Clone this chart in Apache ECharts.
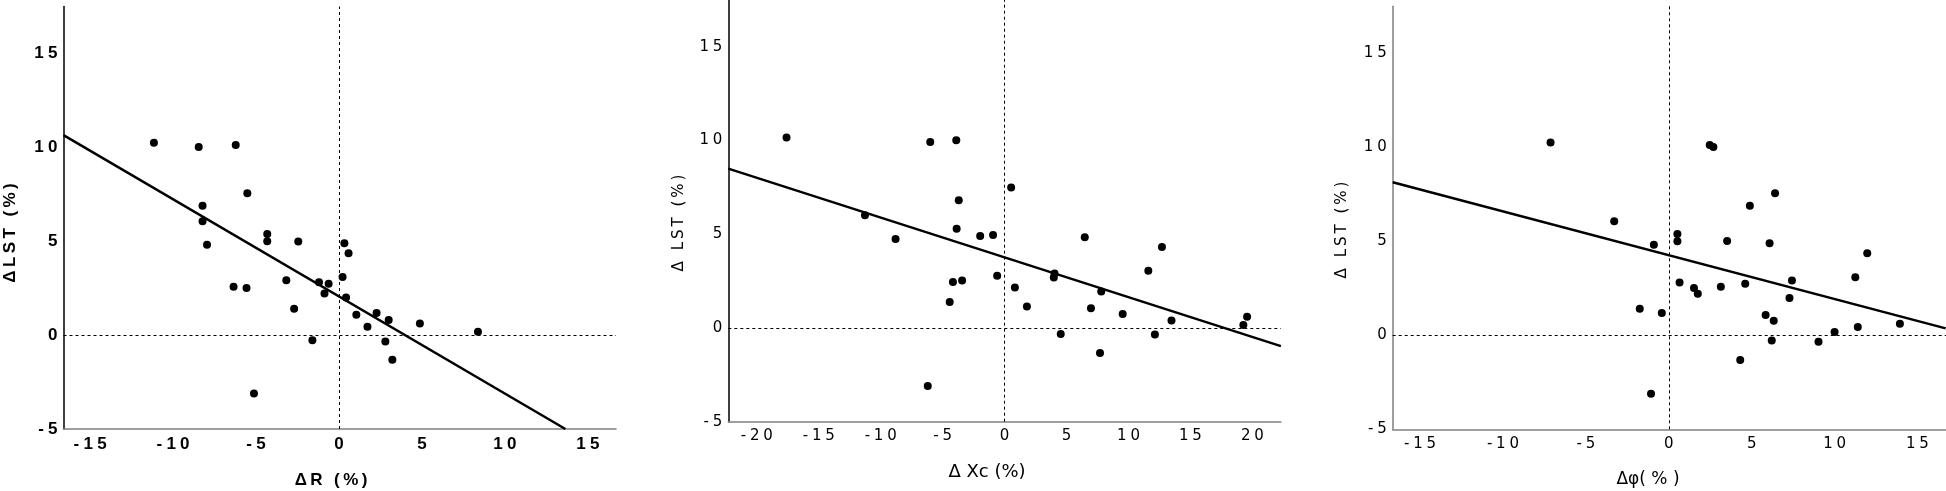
<!DOCTYPE html>
<html>
<head>
<meta charset="utf-8">
<script src="https://cdn.jsdelivr.net/npm/echarts@6/dist/echarts.min.js"></script>
<style>html,body{margin:0;padding:0;background:#fff}#c{width:1946px;height:491px}</style>
</head>
<body>
<div id="c"></div>
<script>
// ---- data ----
const xTicks1 = [-15, -10, -5, 0, 5, 10, 15];
const xTicks2 = [-20, -15, -10, -5, 0, 5, 10, 15, 20];
const xTicks3 = [-15, -10, -5, 0, 5, 10, 15];
const yTicks = [-5, 0, 5, 10, 15];

// Panel 1: ΔR vs ΔLST
const dR   = [-11.15,-8.45,-6.22,-5.52,-8.22,-8.22,-7.95,-4.32,-4.32,-2.45,0.33,0.58,0.22,-3.17,-1.2,-0.62,-6.35,-5.57,-0.87,0.43,-2.7,1.05,2.27,3.0,1.72,4.88,8.38,-1.6,2.8,3.22,-5.12];
const lst1 = [10.25,10.02,10.12,7.56,6.89,6.06,4.81,5.39,5.0,4.98,4.89,4.36,3.09,2.92,2.81,2.74,2.58,2.51,2.21,2.0,1.41,1.08,1.18,0.8,0.44,0.62,0.18,-0.28,-0.34,-1.31,-3.11];
const fit1X = [-16.6, 13.65];
const fit1Y = [10.65, -5.0];

// Panel 2: ΔXc vs ΔLST
const dXc  = [-17.6,-6.0,-3.9,0.53,-3.7,-11.27,-3.87,-1.97,-0.93,-8.8,6.47,12.7,11.6,4.03,3.97,-0.6,-4.17,-3.43,0.83,7.8,-4.43,1.8,6.97,9.53,13.47,19.57,19.27,4.53,12.13,7.7,-6.2];
const lst2 = [10.16,9.93,10.02,7.49,6.82,6.02,5.3,4.91,4.96,4.75,4.84,4.32,3.05,2.91,2.7,2.79,2.46,2.54,2.16,1.95,1.39,1.14,1.05,0.75,0.4,0.6,0.16,-0.32,-0.35,-1.33,-3.1];
const fit2X = [-22.3, 22.3];
const fit2Y = [8.5, -0.97];

// Panel 3: Δφ vs ΔLST
const dPhi = [-7.13,2.47,2.69,6.41,4.89,-3.29,0.52,0.52,3.52,6.08,-0.9,11.97,11.25,0.65,7.43,4.61,3.14,1.52,1.75,7.28,-1.75,-0.42,5.84,6.33,11.4,13.94,10.0,6.21,9.03,4.31,-1.07];
const lst3 = [10.25,10.12,10.02,7.56,6.89,6.06,5.39,5.0,5.02,4.89,4.81,4.36,3.09,2.81,2.92,2.74,2.58,2.51,2.21,1.98,1.41,1.18,1.08,0.78,0.44,0.62,0.18,-0.28,-0.34,-1.31,-3.11];
const fit3X = [-16.65, 16.7];
const fit3Y = [8.14, 0.37];

// ---- chart ----
const zip = (a, b) => a.map((v, i) => [v, b[i]]);
const spacedWith = sep => s => Array.from(String(s)).join(sep);
const spacedThin = spacedWith('\u2009');
const spacedWide = spacedWith('\u2005');

const chart = echarts.init(document.getElementById('c'), null, {renderer: 'canvas'});

const boldFont = {fontFamily: 'Liberation Sans', fontWeight: 'bold', fontSize: 17, color: '#000'};
const regFont = {fontFamily: 'DejaVu Sans', fontWeight: 'normal', fontSize: 15, color: '#000'};

function xAxisCfg(idx, min, max, ticks, font, lineColor) {
  return {
    type: 'value', gridIndex: idx, min: min, max: max,
    splitLine: {show: false},
    axisTick: {show: false},
    axisLine: {show: true, onZero: false, lineStyle: {color: lineColor, width: 1.5}},
    axisLabel: Object.assign({customValues: ticks, margin: 7, formatter: v => spacedWide(v)}, font)
  };
}
function yAxisCfg(idx, font, lineColor) {
  return {
    type: 'value', gridIndex: idx, min: -5, max: 17.5,
    splitLine: {show: false},
    axisTick: {show: false},
    axisLine: {show: true, onZero: false, lineStyle: {color: lineColor, width: 1.5}},
    axisLabel: Object.assign({customValues: yTicks, margin: 6, formatter: v => spacedWide(v)}, font)
  };
}
const refLines = {
  silent: true, symbol: 'none', label: {show: false},
  lineStyle: {color: '#000', type: [3, 3], width: 1, opacity: 1},
  data: [{xAxis: 0}, {yAxis: 0}]
};
function scatter(idx, xs, ys) {
  return {type: 'scatter', xAxisIndex: idx, yAxisIndex: idx, data: zip(xs, ys),
    symbolSize: 8, itemStyle: {color: '#000', opacity: 1}, markLine: refLines, z: 3};
}
function fitLine(idx, xs, ys) {
  return {type: 'line', xAxisIndex: idx, yAxisIndex: idx, data: zip(xs, ys),
    symbol: 'none', lineStyle: {color: '#000', width: 2.5}, z: 4, clip: true};
}
function title(text, x, y, rot, font) {
  return {type: 'text', x: x, y: y, rotation: rot, z: 10,
    style: {text: text, fill: '#000', font: font,
      align: 'center', verticalAlign: 'middle', textAlign: 'center', textVerticalAlign: 'middle'}};
}

chart.setOption({
  animation: false,
  backgroundColor: '#fff',
  grid: [
    {left: 63.5, top: 6.5, width: 552.5, height: 422.5},
    {left: 728.3, top: -2.9, width: 552.6, height: 424.6},
    {left: 1392.7, top: 6.3, width: 553.3, height: 423}
  ],
  xAxis: [
    xAxisCfg(0, -16.6, 16.7, xTicks1, boldFont, '#808080'),
    xAxisCfg(1, -22.3, 22.3, xTicks2, regFont, '#808080'),
    xAxisCfg(2, -16.65, 16.72, xTicks3, regFont, '#808080')
  ],
  yAxis: [
    yAxisCfg(0, boldFont, '#000'),
    yAxisCfg(1, regFont, '#000'),
    yAxisCfg(2, regFont, '#808080')
  ],
  series: [
    scatter(0, dR, lst1), fitLine(0, fit1X, fit1Y),
    scatter(1, dXc, lst2), fitLine(1, fit2X, fit2Y),
    scatter(2, dPhi, lst3), fitLine(2, fit3X, fit3Y)
  ],
  graphic: [
    title(spacedThin('ΔLST (%)'), 10, 233, Math.PI / 2, 'bold 17px "Liberation Sans"'),
    title(spacedThin('ΔR (%)'), 331, 480, 0, 'bold 17px "Liberation Sans"'),
    title(spacedThin('Δ LST (%)'), 679, 223, Math.PI / 2, '15px "DejaVu Sans"'),
    title('Δ Xc (%)', 987, 472, 0, '18px "DejaVu Sans"'),
    title(spacedThin('Δ LST (%)'), 1342, 230, Math.PI / 2, '15px "DejaVu Sans"'),
    title('Δφ( % )', 1648, 480, 0, '17px "DejaVu Sans"')
  ]
});
</script>
</body>
</html>
